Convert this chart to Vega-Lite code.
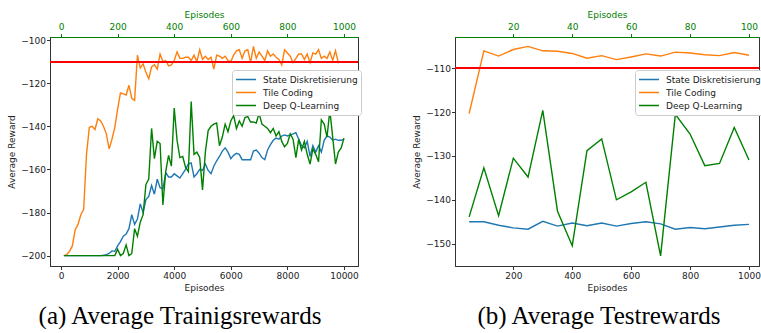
{
"$schema": "https://vega.github.io/schema/vega-lite/v6.json",
"padding": {"left": 7, "top": 10, "right": 0, "bottom": 0},
"bounds": "flush",
"spacing": 97,
"config": {
  "font": "DejaVu Sans",
  "view": {"stroke": "#333", "strokeWidth": 1},
  "axis": {"grid": false, "labelFontSize": 9, "titleFontSize": 9, "titleFontWeight": "normal", "labelColor": "#222", "titleColor": "#222", "domainColor": "#333", "tickColor": "#333", "tickSize": 3.5, "labelPadding": 2, "titlePadding": 3},
  "legend": {"orient": "none", "legendX": 182, "legendY": 33, "fillColor": "white", "strokeColor": "#cccccc", "cornerRadius": 3, "padding": 3, "labelFontSize": 9, "labelColor": "#222", "symbolType": "stroke", "symbolStrokeWidth": 1.5, "symbolSize": 400, "clipHeight": 13, "rowPadding": 0, "labelOffset": 6, "title": null},
  "title": {"font": "Liberation Serif", "fontSize": 25, "fontWeight": "normal", "color": "#000", "orient": "bottom", "anchor": "middle", "offset": 11}
},
"datasets": {
"train": [
{"episode":100,"method":"State Diskretisierung","reward":-200},{"episode":200,"method":"State Diskretisierung","reward":-200},{"episode":300,"method":"State Diskretisierung","reward":-200},{"episode":400,"method":"State Diskretisierung","reward":-200},{"episode":500,"method":"State Diskretisierung","reward":-200},{"episode":600,"method":"State Diskretisierung","reward":-200},{"episode":700,"method":"State Diskretisierung","reward":-200},{"episode":800,"method":"State Diskretisierung","reward":-200},{"episode":900,"method":"State Diskretisierung","reward":-200},{"episode":1000,"method":"State Diskretisierung","reward":-200},
{"episode":1100,"method":"State Diskretisierung","reward":-200},{"episode":1200,"method":"State Diskretisierung","reward":-200},{"episode":1300,"method":"State Diskretisierung","reward":-200},{"episode":1400,"method":"State Diskretisierung","reward":-200},{"episode":1500,"method":"State Diskretisierung","reward":-199.8},{"episode":1600,"method":"State Diskretisierung","reward":-199.5},{"episode":1700,"method":"State Diskretisierung","reward":-199},{"episode":1800,"method":"State Diskretisierung","reward":-197.8},{"episode":1900,"method":"State Diskretisierung","reward":-198},{"episode":2000,"method":"State Diskretisierung","reward":-195.5},
{"episode":2100,"method":"State Diskretisierung","reward":-193.5},{"episode":2200,"method":"State Diskretisierung","reward":-191},{"episode":2300,"method":"State Diskretisierung","reward":-190},{"episode":2400,"method":"State Diskretisierung","reward":-187.5},{"episode":2500,"method":"State Diskretisierung","reward":-181},{"episode":2600,"method":"State Diskretisierung","reward":-185.5},{"episode":2700,"method":"State Diskretisierung","reward":-183},{"episode":2800,"method":"State Diskretisierung","reward":-176},{"episode":2900,"method":"State Diskretisierung","reward":-180},{"episode":3000,"method":"State Diskretisierung","reward":-174},
{"episode":3100,"method":"State Diskretisierung","reward":-172.5},{"episode":3200,"method":"State Diskretisierung","reward":-167.5},{"episode":3300,"method":"State Diskretisierung","reward":-171.5},{"episode":3400,"method":"State Diskretisierung","reward":-164.5},{"episode":3500,"method":"State Diskretisierung","reward":-168.5},{"episode":3600,"method":"State Diskretisierung","reward":-169},{"episode":3700,"method":"State Diskretisierung","reward":-161.5},{"episode":3800,"method":"State Diskretisierung","reward":-163.5},{"episode":3900,"method":"State Diskretisierung","reward":-163.5},{"episode":4000,"method":"State Diskretisierung","reward":-162},
{"episode":4100,"method":"State Diskretisierung","reward":-163},{"episode":4200,"method":"State Diskretisierung","reward":-164},{"episode":4300,"method":"State Diskretisierung","reward":-162},{"episode":4400,"method":"State Diskretisierung","reward":-160},{"episode":4500,"method":"State Diskretisierung","reward":-157.5},{"episode":4600,"method":"State Diskretisierung","reward":-157},{"episode":4700,"method":"State Diskretisierung","reward":-163.5},{"episode":4800,"method":"State Diskretisierung","reward":-162},{"episode":4900,"method":"State Diskretisierung","reward":-160},{"episode":5000,"method":"State Diskretisierung","reward":-160.5},
{"episode":5100,"method":"State Diskretisierung","reward":-157.5},{"episode":5200,"method":"State Diskretisierung","reward":-160.5},{"episode":5300,"method":"State Diskretisierung","reward":-162},{"episode":5400,"method":"State Diskretisierung","reward":-158.5},{"episode":5500,"method":"State Diskretisierung","reward":-156},{"episode":5600,"method":"State Diskretisierung","reward":-154},{"episode":5700,"method":"State Diskretisierung","reward":-151.5},{"episode":5800,"method":"State Diskretisierung","reward":-150},{"episode":5900,"method":"State Diskretisierung","reward":-152},{"episode":6000,"method":"State Diskretisierung","reward":-155},
{"episode":6100,"method":"State Diskretisierung","reward":-153.5},{"episode":6200,"method":"State Diskretisierung","reward":-152.5},{"episode":6300,"method":"State Diskretisierung","reward":-153},{"episode":6400,"method":"State Diskretisierung","reward":-155.5},{"episode":6500,"method":"State Diskretisierung","reward":-155.5},{"episode":6600,"method":"State Diskretisierung","reward":-155.5},{"episode":6700,"method":"State Diskretisierung","reward":-155.5},{"episode":6800,"method":"State Diskretisierung","reward":-151.5},{"episode":6900,"method":"State Diskretisierung","reward":-151},{"episode":7000,"method":"State Diskretisierung","reward":-152.5},
{"episode":7100,"method":"State Diskretisierung","reward":-154.5},{"episode":7200,"method":"State Diskretisierung","reward":-155.5},{"episode":7300,"method":"State Diskretisierung","reward":-151},{"episode":7400,"method":"State Diskretisierung","reward":-148.5},{"episode":7500,"method":"State Diskretisierung","reward":-146.5},{"episode":7600,"method":"State Diskretisierung","reward":-145.5},{"episode":7700,"method":"State Diskretisierung","reward":-146},{"episode":7800,"method":"State Diskretisierung","reward":-144.5},{"episode":7900,"method":"State Diskretisierung","reward":-144},{"episode":8000,"method":"State Diskretisierung","reward":-144.5},
{"episode":8100,"method":"State Diskretisierung","reward":-144},{"episode":8200,"method":"State Diskretisierung","reward":-143.5},{"episode":8300,"method":"State Diskretisierung","reward":-143},{"episode":8400,"method":"State Diskretisierung","reward":-146},{"episode":8500,"method":"State Diskretisierung","reward":-149},{"episode":8600,"method":"State Diskretisierung","reward":-150},{"episode":8700,"method":"State Diskretisierung","reward":-147},{"episode":8800,"method":"State Diskretisierung","reward":-154},{"episode":8900,"method":"State Diskretisierung","reward":-149},{"episode":9000,"method":"State Diskretisierung","reward":-152},
{"episode":9100,"method":"State Diskretisierung","reward":-149},{"episode":9200,"method":"State Diskretisierung","reward":-152},{"episode":9300,"method":"State Diskretisierung","reward":-146.5},{"episode":9400,"method":"State Diskretisierung","reward":-144.5},{"episode":9500,"method":"State Diskretisierung","reward":-145},{"episode":9600,"method":"State Diskretisierung","reward":-146.5},{"episode":9700,"method":"State Diskretisierung","reward":-146},{"episode":9800,"method":"State Diskretisierung","reward":-146.5},{"episode":9900,"method":"State Diskretisierung","reward":-146.5},{"episode":10000,"method":"State Diskretisierung","reward":-146},
{"episode":100,"method":"Tile Coding","reward":-200},{"episode":200,"method":"Tile Coding","reward":-199.5},{"episode":300,"method":"Tile Coding","reward":-198},{"episode":400,"method":"Tile Coding","reward":-195.5},{"episode":500,"method":"Tile Coding","reward":-188},{"episode":600,"method":"Tile Coding","reward":-185.5},{"episode":700,"method":"Tile Coding","reward":-181},{"episode":800,"method":"Tile Coding","reward":-178.5},{"episode":900,"method":"Tile Coding","reward":-153},{"episode":1000,"method":"Tile Coding","reward":-140.5},
{"episode":1100,"method":"Tile Coding","reward":-140},{"episode":1200,"method":"Tile Coding","reward":-141.5},{"episode":1300,"method":"Tile Coding","reward":-136.5},{"episode":1400,"method":"Tile Coding","reward":-137.5},{"episode":1500,"method":"Tile Coding","reward":-140},{"episode":1600,"method":"Tile Coding","reward":-143.5},{"episode":1700,"method":"Tile Coding","reward":-150.5},{"episode":1800,"method":"Tile Coding","reward":-146},{"episode":1900,"method":"Tile Coding","reward":-140.5},{"episode":2000,"method":"Tile Coding","reward":-132},
{"episode":2100,"method":"Tile Coding","reward":-124.5},{"episode":2200,"method":"Tile Coding","reward":-125},{"episode":2300,"method":"Tile Coding","reward":-125.5},{"episode":2400,"method":"Tile Coding","reward":-121},{"episode":2500,"method":"Tile Coding","reward":-127},{"episode":2600,"method":"Tile Coding","reward":-128},{"episode":2700,"method":"Tile Coding","reward":-107},{"episode":2800,"method":"Tile Coding","reward":-113},{"episode":2900,"method":"Tile Coding","reward":-111},{"episode":3000,"method":"Tile Coding","reward":-115},
{"episode":3100,"method":"Tile Coding","reward":-118},{"episode":3200,"method":"Tile Coding","reward":-112.5},{"episode":3300,"method":"Tile Coding","reward":-111.5},{"episode":3400,"method":"Tile Coding","reward":-113.5},{"episode":3500,"method":"Tile Coding","reward":-106.5},{"episode":3600,"method":"Tile Coding","reward":-110},{"episode":3700,"method":"Tile Coding","reward":-109.5},{"episode":3800,"method":"Tile Coding","reward":-112},{"episode":3900,"method":"Tile Coding","reward":-111.5},{"episode":4000,"method":"Tile Coding","reward":-109.5},
{"episode":4100,"method":"Tile Coding","reward":-105.5},{"episode":4200,"method":"Tile Coding","reward":-108.5},{"episode":4300,"method":"Tile Coding","reward":-108.5},{"episode":4400,"method":"Tile Coding","reward":-108},{"episode":4500,"method":"Tile Coding","reward":-108},{"episode":4600,"method":"Tile Coding","reward":-109.5},{"episode":4700,"method":"Tile Coding","reward":-107},{"episode":4800,"method":"Tile Coding","reward":-110},{"episode":4900,"method":"Tile Coding","reward":-104.5},{"episode":5000,"method":"Tile Coding","reward":-109},
{"episode":5100,"method":"Tile Coding","reward":-107.5},{"episode":5200,"method":"Tile Coding","reward":-109},{"episode":5300,"method":"Tile Coding","reward":-108},{"episode":5400,"method":"Tile Coding","reward":-113.5},{"episode":5500,"method":"Tile Coding","reward":-107},{"episode":5600,"method":"Tile Coding","reward":-107.5},{"episode":5700,"method":"Tile Coding","reward":-108.5},{"episode":5800,"method":"Tile Coding","reward":-107.5},{"episode":5900,"method":"Tile Coding","reward":-109.5},{"episode":6000,"method":"Tile Coding","reward":-110},
{"episode":6100,"method":"Tile Coding","reward":-107},{"episode":6200,"method":"Tile Coding","reward":-105},{"episode":6300,"method":"Tile Coding","reward":-104.5},{"episode":6400,"method":"Tile Coding","reward":-108.5},{"episode":6500,"method":"Tile Coding","reward":-105},{"episode":6600,"method":"Tile Coding","reward":-104.5},{"episode":6700,"method":"Tile Coding","reward":-110.5},{"episode":6800,"method":"Tile Coding","reward":-103},{"episode":6900,"method":"Tile Coding","reward":-108.5},{"episode":7000,"method":"Tile Coding","reward":-105.5},
{"episode":7100,"method":"Tile Coding","reward":-107.5},{"episode":7200,"method":"Tile Coding","reward":-109.5},{"episode":7300,"method":"Tile Coding","reward":-105},{"episode":7400,"method":"Tile Coding","reward":-107.5},{"episode":7500,"method":"Tile Coding","reward":-106.5},{"episode":7600,"method":"Tile Coding","reward":-108},{"episode":7700,"method":"Tile Coding","reward":-109},{"episode":7800,"method":"Tile Coding","reward":-111.5},{"episode":7900,"method":"Tile Coding","reward":-104.5},{"episode":8000,"method":"Tile Coding","reward":-106},
{"episode":8100,"method":"Tile Coding","reward":-107.5},{"episode":8200,"method":"Tile Coding","reward":-110.5},{"episode":8300,"method":"Tile Coding","reward":-108.5},{"episode":8400,"method":"Tile Coding","reward":-106.5},{"episode":8500,"method":"Tile Coding","reward":-106.5},{"episode":8600,"method":"Tile Coding","reward":-109},{"episode":8700,"method":"Tile Coding","reward":-106.5},{"episode":8800,"method":"Tile Coding","reward":-110.5},{"episode":8900,"method":"Tile Coding","reward":-106},{"episode":9000,"method":"Tile Coding","reward":-106.5},
{"episode":9100,"method":"Tile Coding","reward":-104.5},{"episode":9200,"method":"Tile Coding","reward":-108.5},{"episode":9300,"method":"Tile Coding","reward":-107.5},{"episode":9400,"method":"Tile Coding","reward":-108.5},{"episode":9500,"method":"Tile Coding","reward":-105.5},{"episode":9600,"method":"Tile Coding","reward":-109.5},{"episode":9700,"method":"Tile Coding","reward":-105},{"episode":9800,"method":"Tile Coding","reward":-110.5},{"episode":9900,"method":"Tile Coding","reward":-110},{"episode":10000,"method":"Tile Coding","reward":-110},
{"episode":100,"method":"Deep Q-Learning","reward":-200},{"episode":200,"method":"Deep Q-Learning","reward":-200},{"episode":300,"method":"Deep Q-Learning","reward":-200},{"episode":400,"method":"Deep Q-Learning","reward":-200},{"episode":500,"method":"Deep Q-Learning","reward":-200},{"episode":600,"method":"Deep Q-Learning","reward":-200},{"episode":700,"method":"Deep Q-Learning","reward":-200},{"episode":800,"method":"Deep Q-Learning","reward":-200},{"episode":900,"method":"Deep Q-Learning","reward":-200},{"episode":1000,"method":"Deep Q-Learning","reward":-200},
{"episode":1100,"method":"Deep Q-Learning","reward":-200},{"episode":1200,"method":"Deep Q-Learning","reward":-200},{"episode":1300,"method":"Deep Q-Learning","reward":-200},{"episode":1400,"method":"Deep Q-Learning","reward":-200},{"episode":1500,"method":"Deep Q-Learning","reward":-200},{"episode":1600,"method":"Deep Q-Learning","reward":-200},{"episode":1700,"method":"Deep Q-Learning","reward":-200},{"episode":1800,"method":"Deep Q-Learning","reward":-200},{"episode":1900,"method":"Deep Q-Learning","reward":-200},{"episode":2000,"method":"Deep Q-Learning","reward":-197},
{"episode":2100,"method":"Deep Q-Learning","reward":-200},{"episode":2200,"method":"Deep Q-Learning","reward":-199},{"episode":2300,"method":"Deep Q-Learning","reward":-195},{"episode":2400,"method":"Deep Q-Learning","reward":-200},{"episode":2500,"method":"Deep Q-Learning","reward":-199},{"episode":2600,"method":"Deep Q-Learning","reward":-187.5},{"episode":2700,"method":"Deep Q-Learning","reward":-191},{"episode":2800,"method":"Deep Q-Learning","reward":-184.5},{"episode":2900,"method":"Deep Q-Learning","reward":-181},{"episode":3000,"method":"Deep Q-Learning","reward":-167},
{"episode":3100,"method":"Deep Q-Learning","reward":-164.5},{"episode":3200,"method":"Deep Q-Learning","reward":-141},{"episode":3300,"method":"Deep Q-Learning","reward":-155},{"episode":3400,"method":"Deep Q-Learning","reward":-147},{"episode":3500,"method":"Deep Q-Learning","reward":-148},{"episode":3600,"method":"Deep Q-Learning","reward":-176.5},{"episode":3700,"method":"Deep Q-Learning","reward":-161},{"episode":3800,"method":"Deep Q-Learning","reward":-153.5},{"episode":3900,"method":"Deep Q-Learning","reward":-158.5},{"episode":4000,"method":"Deep Q-Learning","reward":-131.5},
{"episode":4100,"method":"Deep Q-Learning","reward":-146.5},{"episode":4200,"method":"Deep Q-Learning","reward":-154.5},{"episode":4300,"method":"Deep Q-Learning","reward":-154},{"episode":4400,"method":"Deep Q-Learning","reward":-159},{"episode":4500,"method":"Deep Q-Learning","reward":-161},{"episode":4600,"method":"Deep Q-Learning","reward":-128.5},{"episode":4700,"method":"Deep Q-Learning","reward":-153},{"episode":4800,"method":"Deep Q-Learning","reward":-152},{"episode":4900,"method":"Deep Q-Learning","reward":-154.5},{"episode":5000,"method":"Deep Q-Learning","reward":-169.5},
{"episode":5100,"method":"Deep Q-Learning","reward":-152},{"episode":5200,"method":"Deep Q-Learning","reward":-142},{"episode":5300,"method":"Deep Q-Learning","reward":-140},{"episode":5400,"method":"Deep Q-Learning","reward":-139},{"episode":5500,"method":"Deep Q-Learning","reward":-138.5},{"episode":5600,"method":"Deep Q-Learning","reward":-149},{"episode":5700,"method":"Deep Q-Learning","reward":-145},{"episode":5800,"method":"Deep Q-Learning","reward":-139},{"episode":5900,"method":"Deep Q-Learning","reward":-142.5},{"episode":6000,"method":"Deep Q-Learning","reward":-137.5},
{"episode":6100,"method":"Deep Q-Learning","reward":-135},{"episode":6200,"method":"Deep Q-Learning","reward":-141},{"episode":6300,"method":"Deep Q-Learning","reward":-137.5},{"episode":6400,"method":"Deep Q-Learning","reward":-140},{"episode":6500,"method":"Deep Q-Learning","reward":-136},{"episode":6600,"method":"Deep Q-Learning","reward":-135.5},{"episode":6700,"method":"Deep Q-Learning","reward":-138},{"episode":6800,"method":"Deep Q-Learning","reward":-138},{"episode":6900,"method":"Deep Q-Learning","reward":-138.5},{"episode":7000,"method":"Deep Q-Learning","reward":-134},
{"episode":7100,"method":"Deep Q-Learning","reward":-139},{"episode":7200,"method":"Deep Q-Learning","reward":-140},{"episode":7300,"method":"Deep Q-Learning","reward":-141},{"episode":7400,"method":"Deep Q-Learning","reward":-143},{"episode":7500,"method":"Deep Q-Learning","reward":-141},{"episode":7600,"method":"Deep Q-Learning","reward":-144.5},{"episode":7700,"method":"Deep Q-Learning","reward":-142.5},{"episode":7800,"method":"Deep Q-Learning","reward":-147},{"episode":7900,"method":"Deep Q-Learning","reward":-149.5},{"episode":8000,"method":"Deep Q-Learning","reward":-148},
{"episode":8100,"method":"Deep Q-Learning","reward":-143.5},{"episode":8200,"method":"Deep Q-Learning","reward":-146},{"episode":8300,"method":"Deep Q-Learning","reward":-154.5},{"episode":8400,"method":"Deep Q-Learning","reward":-146},{"episode":8500,"method":"Deep Q-Learning","reward":-151},{"episode":8600,"method":"Deep Q-Learning","reward":-147},{"episode":8700,"method":"Deep Q-Learning","reward":-153},{"episode":8800,"method":"Deep Q-Learning","reward":-157.5},{"episode":8900,"method":"Deep Q-Learning","reward":-150.5},{"episode":9000,"method":"Deep Q-Learning","reward":-153},
{"episode":9100,"method":"Deep Q-Learning","reward":-156.5},{"episode":9200,"method":"Deep Q-Learning","reward":-137},{"episode":9300,"method":"Deep Q-Learning","reward":-139},{"episode":9400,"method":"Deep Q-Learning","reward":-145},{"episode":9500,"method":"Deep Q-Learning","reward":-132.5},{"episode":9600,"method":"Deep Q-Learning","reward":-145},{"episode":9700,"method":"Deep Q-Learning","reward":-157.5},{"episode":9800,"method":"Deep Q-Learning","reward":-152},{"episode":9900,"method":"Deep Q-Learning","reward":-150},{"episode":10000,"method":"Deep Q-Learning","reward":-145.5}
],
"test": [
{"episode":50,"method":"State Diskretisierung","reward":-145.0},{"episode":100,"method":"State Diskretisierung","reward":-145.0},{"episode":150,"method":"State Diskretisierung","reward":-145.8},{"episode":200,"method":"State Diskretisierung","reward":-146.4},{"episode":250,"method":"State Diskretisierung","reward":-146.7},{"episode":300,"method":"State Diskretisierung","reward":-144.9},{"episode":350,"method":"State Diskretisierung","reward":-146.0},{"episode":400,"method":"State Diskretisierung","reward":-145.3},{"episode":450,"method":"State Diskretisierung","reward":-145.9},{"episode":500,"method":"State Diskretisierung","reward":-145.3},
{"episode":550,"method":"State Diskretisierung","reward":-146.0},{"episode":600,"method":"State Diskretisierung","reward":-145.4},{"episode":650,"method":"State Diskretisierung","reward":-145.0},{"episode":700,"method":"State Diskretisierung","reward":-145.5},{"episode":750,"method":"State Diskretisierung","reward":-146.7},{"episode":800,"method":"State Diskretisierung","reward":-146.3},{"episode":850,"method":"State Diskretisierung","reward":-146.6},{"episode":900,"method":"State Diskretisierung","reward":-146.2},{"episode":950,"method":"State Diskretisierung","reward":-145.8},{"episode":1000,"method":"State Diskretisierung","reward":-145.6},
{"episode":50,"method":"Tile Coding","reward":-120.3},{"episode":100,"method":"Tile Coding","reward":-106.0},{"episode":150,"method":"Tile Coding","reward":-107.2},{"episode":200,"method":"Tile Coding","reward":-105.7},{"episode":250,"method":"Tile Coding","reward":-105.0},{"episode":300,"method":"Tile Coding","reward":-106.0},{"episode":350,"method":"Tile Coding","reward":-106.1},{"episode":400,"method":"Tile Coding","reward":-106.6},{"episode":450,"method":"Tile Coding","reward":-107.7},{"episode":500,"method":"Tile Coding","reward":-107.1},
{"episode":550,"method":"Tile Coding","reward":-108.0},{"episode":600,"method":"Tile Coding","reward":-107.4},{"episode":650,"method":"Tile Coding","reward":-106.7},{"episode":700,"method":"Tile Coding","reward":-107.2},{"episode":750,"method":"Tile Coding","reward":-106.3},{"episode":800,"method":"Tile Coding","reward":-106.5},{"episode":850,"method":"Tile Coding","reward":-106.9},{"episode":900,"method":"Tile Coding","reward":-107.1},{"episode":950,"method":"Tile Coding","reward":-106.4},{"episode":1000,"method":"Tile Coding","reward":-107.0},
{"episode":50,"method":"Deep Q-Learning","reward":-143.9},{"episode":100,"method":"Deep Q-Learning","reward":-132.7},{"episode":150,"method":"Deep Q-Learning","reward":-143.6},{"episode":200,"method":"Deep Q-Learning","reward":-130.5},{"episode":250,"method":"Deep Q-Learning","reward":-134.8},{"episode":300,"method":"Deep Q-Learning","reward":-119.6},{"episode":350,"method":"Deep Q-Learning","reward":-142.6},{"episode":400,"method":"Deep Q-Learning","reward":-150.5},{"episode":450,"method":"Deep Q-Learning","reward":-128.8},{"episode":500,"method":"Deep Q-Learning","reward":-126.1},
{"episode":550,"method":"Deep Q-Learning","reward":-140.0},{"episode":600,"method":"Deep Q-Learning","reward":-138.2},{"episode":650,"method":"Deep Q-Learning","reward":-136.0},{"episode":700,"method":"Deep Q-Learning","reward":-152.8},{"episode":750,"method":"Deep Q-Learning","reward":-120.5},{"episode":800,"method":"Deep Q-Learning","reward":-125.0},{"episode":850,"method":"Deep Q-Learning","reward":-132.2},{"episode":900,"method":"Deep Q-Learning","reward":-131.7},{"episode":950,"method":"Deep Q-Learning","reward":-123.5},{"episode":1000,"method":"Deep Q-Learning","reward":-130.9}
]
},
"hconcat": [
{
  "width": 308, "height": 229,
  "data": {"name": "train"},
  "title": {"text": "(a) Average Trainigsrewards", "dx": -24},
  "layer": [
    {"mark": {"type": "line", "strokeWidth": 1.4},
     "encoding": {
       "x": {"field": "episode", "type": "quantitative", "scale": {"domain": [-390, 10495], "nice": false, "zero": false}, "axis": {"orient": "bottom", "values": [0, 2000, 4000, 6000, 8000, 10000], "format": "d", "title": "Episodes"}},
       "y": {"field": "reward", "type": "quantitative", "scale": {"domain": [-204.8, -98.6], "nice": false, "zero": false}, "axis": {"values": [-200, -180, -160, -140, -120, -100], "format": "d", "title": "Average Reward", "labelPadding": 1, "titlePadding": 4}},
       "color": {"field": "method", "type": "nominal", "scale": {"domain": ["State Diskretisierung", "Tile Coding", "Deep Q-Learning"], "range": ["#1f77b4", "#ff7f0e", "#008000"]}}
     }},
    {"mark": {"type": "rule", "color": "#ff0000", "strokeWidth": 1.4}, "encoding": {"y": {"datum": -110}}},
    {"mark": {"type": "line", "opacity": 0},
     "encoding": {
       "x": {"field": "episode", "type": "quantitative", "axis": {"orient": "top", "values": [0, 2000, 4000, 6000, 8000, 10000], "labelExpr": "format(datum.value / 10, 'd')", "title": "Episodes", "domainColor": "green", "tickColor": "green", "labelColor": "green", "titleColor": "green"}},
       "y": {"field": "reward", "type": "quantitative"},
       "detail": {"field": "method"}
     }}
  ],
  "resolve": {"axis": {"x": "independent"}}
},
{
  "width": 304, "height": 229,
  "data": {"name": "test"},
  "title": {"text": "(b) Average Testrewards", "dx": -8},
  "layer": [
    {"mark": {"type": "line", "strokeWidth": 1.4},
     "encoding": {
       "x": {"field": "episode", "type": "quantitative", "scale": {"domain": [2, 1034], "nice": false, "zero": false}, "axis": {"orient": "bottom", "values": [200, 400, 600, 800, 1000], "format": "d", "title": "Episodes"}},
       "y": {"field": "reward", "type": "quantitative", "scale": {"domain": [-155.1, -102.85], "nice": false, "zero": false}, "axis": {"values": [-150, -140, -130, -120, -110], "format": "d", "title": "Average Reward", "labelPadding": 1, "titlePadding": 4}},
       "color": {"field": "method", "type": "nominal", "scale": {"domain": ["State Diskretisierung", "Tile Coding", "Deep Q-Learning"], "range": ["#1f77b4", "#ff7f0e", "#008000"]}, "legend": {"legendX": 180}}
     }},
    {"mark": {"type": "rule", "color": "#ff0000", "strokeWidth": 1.4}, "encoding": {"y": {"datum": -110}}},
    {"mark": {"type": "line", "opacity": 0},
     "encoding": {
       "x": {"field": "episode", "type": "quantitative", "axis": {"orient": "top", "values": [200, 400, 600, 800, 1000], "labelExpr": "format(datum.value / 10, 'd')", "title": "Episodes", "domainColor": "green", "tickColor": "green", "labelColor": "green", "titleColor": "green"}},
       "y": {"field": "reward", "type": "quantitative"},
       "detail": {"field": "method"}
     }}
  ],
  "resolve": {"axis": {"x": "independent"}}
}
],
"resolve": {"scale": {"color": "independent"}, "legend": {"color": "independent"}}
}
